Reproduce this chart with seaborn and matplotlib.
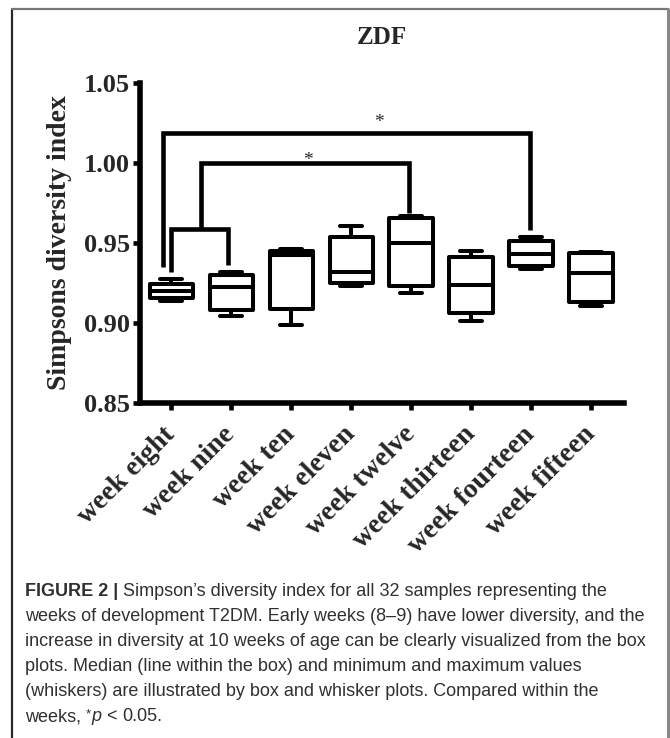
import matplotlib
matplotlib.use("Agg")
import matplotlib.pyplot as plt
from matplotlib.lines import Line2D
import pandas as pd
import seaborn as sns

# Simpson's diversity index, five-number summary per week (ZDF rats)
weeks = ["week eight", "week nine", "week ten", "week eleven",
         "week twelve", "week thirteen", "week fourteen", "week fifteen"]
week_min = [0.9138, 0.9044, 0.8990, 0.9230, 0.9186, 0.9010, 0.9340, 0.9108]
week_q1 = [0.9156, 0.9084, 0.9090, 0.9250, 0.9230, 0.9060, 0.9356, 0.9130]
week_median = [0.9203, 0.9225, 0.9428, 0.9320, 0.9500, 0.9240, 0.9430, 0.9310]
week_q3 = [0.9244, 0.9297, 0.9450, 0.9540, 0.9655, 0.9410, 0.9510, 0.9440]
week_max = [0.9272, 0.9316, 0.9465, 0.9606, 0.9670, 0.9450, 0.9540, 0.9445]
y_ticks = [0.85, 0.90, 0.95, 1.00, 1.05]

caption_lines = [
    "Simpson\u2019s diversity index for all 32 samples representing the",
    "weeks of development T2DM. Early weeks (8\u20139) have lower diversity, and the",
    "increase in diversity at 10 weeks of age can be clearly visualized from the box",
    "plots. Median (line within the box) and minimum and maximum values",
    "(whiskers) are illustrated by box and whisker plots. Compared within the",
]

rows = []
for i, w in enumerate(weeks):
    for stat in (week_min, week_q1, week_median, week_q3, week_max):
        rows.append({"week": w, "simpson": stat[i]})
df = pd.DataFrame(rows)

sns.set_theme(style="ticks")
serif = ["Liberation Serif", "DejaVu Serif"]
plt.rcParams["font.family"] = serif

W, H = 670, 738
fig = plt.figure(figsize=(W / 100, H / 100), dpi=100)
fig.patch.set_facecolor("white")

ax_l, ax_r, ax_t, ax_b = 140, 624, 83, 403
ax = fig.add_axes([ax_l / W, 1 - ax_b / H, (ax_r - ax_l) / W, (ax_b - ax_t) / H])

sns.boxplot(data=df, x="week", y="simpson", order=weeks, ax=ax,
            color="white", linecolor="black", linewidth=2.9, width=0.72,
            whis=(0, 100), showfliers=False, saturation=1,
            boxprops={"joinstyle": "round"})

ax.set_xlim(-0.52, 7.55)
ax.set_ylim(0.85, 1.05)
ax.set_yticks(y_ticks)
ax.set_yticklabels([f"{v:.2f}" for v in y_ticks])
ax.set_facecolor("white")

for side in ("top", "right"):
    ax.spines[side].set_visible(False)
for side in ("left", "bottom"):
    ax.spines[side].set_linewidth(4.0)
    ax.spines[side].set_color("black")
    ax.spines[side].set_capstyle("projecting")

ax.tick_params(axis="both", which="major", length=5, width=3.3,
               color="black", direction="out")
ax.tick_params(axis="y", pad=2, labelsize=19)
ax.tick_params(axis="x", pad=15, labelsize=20)
for lab in ax.get_yticklabels():
    lab.set_fontweight("bold")
for lab in ax.get_xticklabels():
    lab.set_fontweight("bold")
    lab.set_rotation(45)
    lab.set_ha("right")
    lab.set_va("center")
    lab.set_rotation_mode("anchor")

ax.set_xlabel("")
ax.set_ylabel("Simpsons diversity index", fontsize=20, fontweight="bold")
ax.yaxis.set_label_coords(-0.14, 0.5)
ax.set_title("ZDF", fontsize=18, fontweight="bold", pad=28)

# significance brackets
blw = 3.3
def bracket(xs, ys):
    ax.plot(xs, ys, color="black", lw=blw, solid_joinstyle="miter",
            solid_capstyle="butt", clip_on=False)

bracket([0.0, 0.0, 0.95, 0.95], [0.932, 0.959, 0.959, 0.936])
bracket([0.5, 0.5, 3.97, 3.97], [0.959, 1.000, 1.000, 0.969])
bracket([-0.13, -0.13, 5.98, 5.98], [0.935, 1.0186, 1.0186, 0.958])
ax.text(2.28, 0.9988, "*", ha="center", va="baseline", fontsize=14)
ax.text(3.47, 1.0225, "*", ha="center", va="baseline", fontsize=14)

# page frame
frame_kw = dict(transform=fig.transFigure, lw=1.6)
fig.add_artist(Line2D([12 / W, 12 / W], [0, 1 - 9 / H], color="#2a2a2a", **frame_kw))
fig.add_artist(Line2D([12 / W, 668 / W], [1 - 9 / H, 1 - 9 / H], color="#777777", **frame_kw))
fig.add_artist(Line2D([668 / W, 668 / W], [0, 1 - 9 / H], color="#888888", lw=2.2,
                      transform=fig.transFigure))

# caption
cap_family = ["Liberation Sans", "DejaVu Sans"]
cap_color = "#303030"
renderer = fig.canvas.get_renderer()

probe = fig.text(0, 0, caption_lines[2], family=cap_family, fontsize=12)
pw = probe.get_window_extent(renderer).width
probe.remove()
cap_size = 12 * 620 / pw

def width_px(s, **kw):
    t = fig.text(0, 0, s, family=cap_family, fontsize=cap_size, **kw)
    w = t.get_window_extent(renderer).width
    t.remove()
    return w

space = width_px("a a") - width_px("aa")

def runs(x_px, y_px, parts):
    x = x_px
    for s, kw in parts:
        if s == " ":
            x += space
            continue
        kw = dict(kw)
        dy = kw.pop("dy", 0)
        style = {"family": cap_family, "fontsize": cap_size, "color": cap_color}
        style.update(kw)
        t = fig.text(x / W, 1 - (y_px - dy) / H, s, va="baseline", ha="left", **style)
        x = t.get_window_extent(renderer).x1

base0, step, x0 = 596, 25, 25
runs(x0, base0, [("FIGURE 2 |", {"fontweight": "bold"}), (" ", {}),
                 (caption_lines[0], {})])
for k in range(1, 5):
    runs(x0, base0 + k * step, [(caption_lines[k], {})])
runs(x0, base0 + 5 * step, [("weeks,", {}), (" ", {}),
                            ("*", {"fontsize": cap_size * 0.75, "dy": 4}),
                            ("p", {"style": "italic"}), (" ", {}), ("<", {}), (" ", {}),
                            ("0.05.", {})])

fig.savefig("out.png", dpi=100, facecolor="white")
